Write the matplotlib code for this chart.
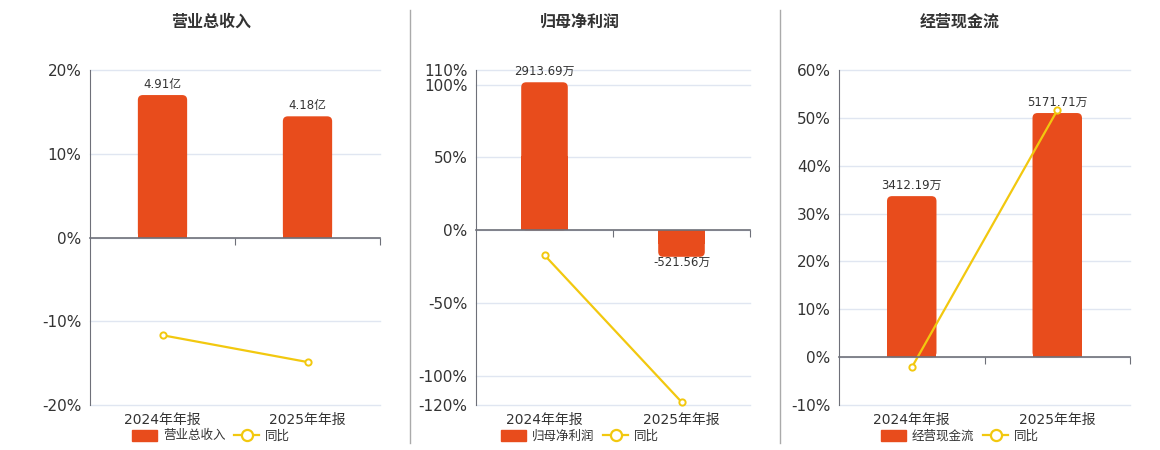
import matplotlib
matplotlib.use("Agg")
import matplotlib.pyplot as plt
from matplotlib.lines import Line2D
from matplotlib.patches import Patch, FancyBboxPatch

plt.rcParams["font.family"] = ["DejaVu Sans", "Noto Sans CJK SC"]

categories = ["2024年年报", "2025年年报"]

titles = ["营业总收入", "归母净利润", "经营现金流"]

revenue = [4.91, 4.18]
revenue_labels = ["4.91亿", "4.18亿"]
revenue_yoy = [-11.67, -14.87]

profit = [2913.69, -521.56]
profit_labels = ["2913.69万", "-521.56万"]
profit_yoy = [-17.1, -117.9]

cashflow = [3412.19, 5171.71]
cashflow_labels = ["3412.19万", "5171.71万"]
cashflow_yoy = [-2.16, 51.57]

pct_ticks = [
    [-20, -10, 0, 10, 20],
    [-120, -100, -50, 0, 50, 100, 110],
    [-10, 0, 10, 20, 30, 40, 50, 60],
]

BAR = "#e84c1c"
LINE = "#f2c80f"
AXIS = "#6e7079"
GRID = "#e0e6f1"
TEXT = "#333333"

W, H = 1160, 450

# panel layout in pixels, title/legend centre, bar-axis limits
panels = [
    dict(left=90, right=380, mid=211, bar_lim=(-5.73, 5.77)),
    dict(left=476, right=750, mid=580, bar_lim=(-3438, 3155)),
    dict(left=839, right=1130, mid=960, bar_lim=(-1011, 6083)),
]
top_px, bottom_px = 70, 405

series = [
    (revenue, revenue_labels, revenue_yoy),
    (profit, profit_labels, profit_yoy),
    (cashflow, cashflow_labels, cashflow_yoy),
]


def main():
    fig = plt.figure(figsize=(W / 100, H / 100), dpi=100)
    x = list(range(len(categories)))
    xlim = (-0.5, len(categories) - 0.5)

    for i, p in enumerate(panels):
        values, labels, yoy = series[i]
        ticks = pct_ticks[i]
        w_px = p["right"] - p["left"]
        h_px = bottom_px - top_px
        rect = [p["left"] / W, 1 - bottom_px / H, w_px / W, h_px / H]

        # bottom layer: percent axis, grid, labels
        ax = fig.add_axes(rect)
        ax.set_xlim(*xlim)
        ax.set_ylim(ticks[0], ticks[-1])
        ax.set_yticks(ticks)
        ax.set_yticklabels([f"{t}%" for t in ticks], fontsize=11, color=TEXT)
        ax.set_xticks(x)
        ax.set_xticklabels(categories, fontsize=10, color=TEXT)
        ax.tick_params(axis="both", length=0, pad=6)
        ax.grid(axis="y", color=GRID, linewidth=1)
        for gl in ax.get_ygridlines():
            gl.set_clip_on(False)
        ax.set_axisbelow(True)
        for s in ["top", "right", "bottom"]:
            ax.spines[s].set_visible(False)
        ax.spines["left"].set_color(AXIS)

        # middle layer: bars on a hidden axis
        axb = fig.add_axes(rect)
        axb.set_xlim(*xlim)
        axb.set_ylim(*p["bar_lim"])
        axb.axis("off")
        bars = axb.bar(x, values, width=0.34, color=BAR, linewidth=0)
        xupp = (xlim[1] - xlim[0]) / w_px
        yupp = (p["bar_lim"][1] - p["bar_lim"][0]) / h_px
        for b, v, lab in zip(bars, values, labels):
            bx, bw = b.get_x(), b.get_width()
            # rounded far end, square base
            axb.add_patch(FancyBboxPatch(
                (bx, min(0, v)), bw, abs(v),
                boxstyle=f"round,pad=0,rounding_size={5 * xupp}",
                mutation_aspect=yupp / xupp, facecolor=BAR, linewidth=0))
            b.set_height(v / 2)
            if v >= 0:
                axb.annotate(lab, (bx + bw / 2, v),
                             xytext=(0, 3), textcoords="offset points",
                             ha="center", va="bottom", fontsize=8.5, color=TEXT)
            else:
                axb.annotate(lab, (bx + bw / 2, v),
                             xytext=(0, 1), textcoords="offset points",
                             ha="center", va="top", fontsize=8.5, color=TEXT)

        # top layer: yoy line and the zero axis line
        axl = fig.add_axes(rect)
        axl.set_xlim(*xlim)
        axl.set_ylim(ticks[0], ticks[-1])
        axl.patch.set_visible(False)
        axl.plot(x, yoy, color=LINE, linewidth=1.6, marker="o", markersize=4.5,
                 markerfacecolor="white", markeredgecolor=LINE,
                 markeredgewidth=1.4, clip_on=False)
        for s in ["top", "right", "left"]:
            axl.spines[s].set_visible(False)
        axl.spines["bottom"].set_position(("data", 0))
        axl.spines["bottom"].set_color(AXIS)
        axl.spines["bottom"].set_linewidth(1.2)
        axl.set_yticks([])
        axl.set_xticks([k + 0.5 for k in x])
        axl.set_xticklabels([])
        axl.tick_params(axis="x", length=5, color=AXIS, direction="out")

        fig.text(p["mid"] / W, 1 - 22 / H, titles[i], ha="center", va="center",
                 fontsize=11.5, fontweight="bold", color=TEXT)

        handles = [
            Patch(facecolor=BAR, edgecolor=BAR),
            Line2D([], [], color=LINE, linewidth=1.6, marker="o", markersize=8,
                   markerfacecolor="white", markeredgewidth=1.6),
        ]
        fig.legend(handles, [titles[i], "同比"], loc="center",
                   bbox_to_anchor=(p["mid"] / W, 1 - 436 / H), ncol=2,
                   frameon=False, fontsize=9, handlelength=2.0,
                   handleheight=1.0, columnspacing=0.7, handletextpad=0.5,
                   labelcolor=TEXT)

    # separators between the panels
    for sx in [410, 780]:
        fig.add_artist(Line2D([sx / W, sx / W], [1 - 443 / H, 1 - 10 / H],
                              transform=fig.transFigure, color="#aaaaaa",
                              linewidth=1))

    fig.savefig("out.png", dpi=100, facecolor="white")


if __name__ == "__main__":
    main()
